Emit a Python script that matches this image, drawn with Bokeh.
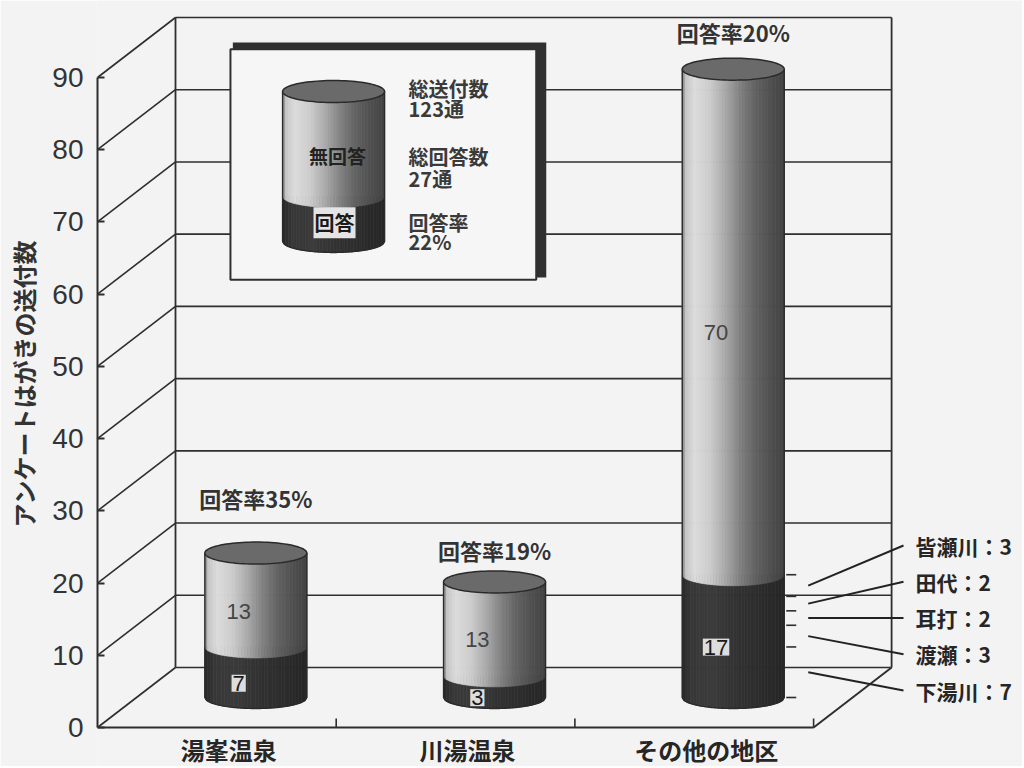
import numpy as np
from bokeh.plotting import figure
from bokeh.models import Range1d, FixedTicker
from bokeh.core.properties import value
from bokeh.embed import file_html
from bokeh.resources import INLINE

# ---------------- data ----------------
categories = ["湯峯温泉", "川湯温泉", "その他の地区"]
answered = [7, 3, 17]
unanswered = [13, 13, 70]
area_names = ["下湯川", "渡瀬", "耳打", "田代", "皆瀬川"]
area_answered = [7, 3, 2, 2, 3]
y_ticks = [0, 10, 20, 30, 40, 50, 60, 70, 80, 90]
y_title = "アンケートはがきの送付数"
key_names = ["無回答", "回答"]
summary_titles = ["総送付数", "総回答数", "回答率"]
rate_prefix = "回答率"

totals = [a + u for a, u in zip(answered, unanswered)]
sent_total = sum(totals)
answered_total = sum(answered)
rates = [round(100 * a / t) for a, t in zip(answered, totals)]
overall_rate = round(100 * answered_total / sent_total)

# ---------------- layout / style ----------------
CJK = "Noto Sans CJK JP"
NUM = "Liberation Sans"
BG = "#f3f3f3"
INK = "#2e2e2e"
W, H = 1022, 766
LEFT = 97
PXX = 238.7            # px per category
PXY = 650 / 90         # px per unit
FLOOR = 727            # canvas px of value 0
DX = 78 / PXX
DY = 60 / PXY
RX = 51 / PXX
RY = 11 / PXY
YMAX = 90
NC = len(categories)

p = figure(width=W, height=H,
           x_range=Range1d(0, (W - LEFT) / PXX),
           y_range=Range1d(-(H - FLOOR) / PXY, FLOOR / PXY),
           output_backend="svg", toolbar_location=None,
           x_axis_location=None,
           min_border_left=LEFT, min_border_right=0,
           min_border_top=0, min_border_bottom=0,
           background_fill_color=BG, border_fill_color=BG,
           outline_line_color=None)
p.grid.visible = False

# ---------------- y axis ----------------
ya = p.yaxis[0]
ya.bounds = (0, YMAX)
ya.ticker = FixedTicker(ticks=y_ticks, minor_ticks=[])
ya.major_tick_in = 7
ya.major_tick_out = 0
ya.minor_tick_in = 0
ya.minor_tick_out = 0
ya.major_tick_line_width = 2
ya.major_tick_line_color = INK
ya.axis_line_width = 2
ya.axis_line_color = INK
ya.major_label_text_font = NUM
ya.major_label_text_font_size = "28px"
ya.major_label_text_color = "#333333"
ya.major_label_standoff = 14
ya.axis_label = y_title
ya.axis_label_text_font = CJK
ya.axis_label_text_font_size = "24px"
ya.axis_label_text_font_style = "bold"
ya.axis_label_text_color = "#333333"
ya.axis_label_standoff = 8

# ---------------- 3D frame ----------------
n = len(y_ticks)
p.segment(x0=[0] * n, y0=y_ticks, x1=[DX] * n, y1=[v + DY for v in y_ticks],
          line_color=INK, line_width=1.6)
p.segment(x0=[DX] * n, y0=[v + DY for v in y_ticks], x1=[NC + DX] * n,
          y1=[v + DY for v in y_ticks], line_color=INK, line_width=1.6)
p.segment(x0=[DX, NC + DX], y0=[DY, DY], x1=[DX, NC + DX], y1=[YMAX + DY] * 2,
          line_color=INK, line_width=1.8)
p.segment(x0=[0, NC], y0=[0, 0], x1=[NC, NC + DX], y1=[0, DY],
          line_color=INK, line_width=2)
bx = list(range(1, NC + 1))
p.segment(x0=bx, y0=[0] * NC, x1=bx, y1=[9 / PXY] * NC, line_color=INK, line_width=1.6)

# ---------------- legend box ----------------
LB = dict(left=0.557, right=1.838, bottom=62.0, top=93.9)
p.quad(left=LB["left"] + 0.01, right=LB["right"] + 0.042, bottom=LB["bottom"] + 0.3,
       top=LB["top"] + 0.95, fill_color="#303030", line_color=None)
p.quad(left=LB["left"], right=LB["right"], bottom=LB["bottom"], top=LB["top"],
       fill_color="#f6f6f6", line_color="#303030", line_width=2)

# ---------------- cylinders ----------------
light_u = [-1.0, -0.92, -0.75, -0.45, -0.15, 0.15, 0.45, 0.75, 1.0]
light_v = [0.50, 0.78, 0.86, 0.80, 0.66, 0.50, 0.38, 0.31, 0.26]
dark_u = [-1.0, -0.8, -0.4, 0.2, 1.0]
dark_v = [0.16, 0.22, 0.23, 0.19, 0.15]


def shade(u, us, vs):
    g = int(round(255 * float(np.interp(u, us, vs))))
    return "#%02x%02x%02x" % (g, g, g)


NS = 36


def side_polys(cx, y_lo, y_hi, us, vs):
    edges = np.linspace(-1, 1, NS + 1)
    xs, ys, cs = [], [], []
    for k in range(NS):
        uu = np.linspace(edges[k], edges[k + 1], 4)
        bxs = cx + RX * uu
        bys = y_lo - RY * np.sqrt(np.clip(1 - uu ** 2, 0, None))
        xs.append(list(bxs) + [bxs[-1], bxs[0]])
        ys.append(list(bys) + [y_hi, y_hi])
        cs.append(shade(float(uu.mean()), us, vs))
    return xs, ys, cs


cyl_cx = [i + 0.5 + DX / 2 for i in range(NC)]
cyl_base = [DY / 2] * NC
cyl_split = [b + a for b, a in zip(cyl_base, answered)]
cyl_top = [b + t for b, t in zip(cyl_base, totals)]

# legend key cylinder (schematic)
key_cx, key_base, key_top = 0.989, 67.3, 88.06
key_split = key_base + 0.3 * (key_top - key_base)

all_cx = cyl_cx + [key_cx]
all_base = cyl_base + [key_base]
all_split = cyl_split + [key_split]
all_top = cyl_top + [key_top]

for cx, b, s, t in zip(all_cx, all_base, all_split, all_top):
    xs, ys, cs = side_polys(cx, b, s, dark_u, dark_v)
    p.patches(xs, ys, fill_color=cs, line_color=cs, line_width=0.7)
    xs, ys, cs = side_polys(cx, s, t, light_u, light_v)
    p.patches(xs, ys, fill_color=cs, line_color=cs, line_width=0.7)

tt = np.linspace(-1, 1, 60)
out_x, out_y = [], []
for cx, b, t in zip(all_cx, all_base, all_top):
    ox = [cx - RX] + list(cx + RX * tt) + [cx + RX]
    oy = [t] + list(b - RY * np.sqrt(np.clip(1 - tt ** 2, 0, None))) + [t]
    out_x.append(ox)
    out_y.append(oy)
p.multi_line(out_x, out_y, line_color="#2a2a2a", line_width=1.4)

th = np.linspace(0, 2 * np.pi, 90)
ex = [list(cx + RX * np.cos(th)) for cx in all_cx]
ey = [list(t + RY * np.sin(th)) for t in all_top]
p.patches(ex, ey, fill_color="#6a6a6a", line_color="#2a2a2a", line_width=1.5)

# segment value labels
lab_dx = 0.072
p.text(x=[cx - lab_dx for cx in cyl_cx],
       y=[s + u / 2 - RY for s, u in zip(cyl_split, unanswered)],
       text=[str(u) for u in unanswered],
       text_font=value(NUM), text_font_size="22px", text_color="#454545",
       text_align="center", text_baseline="middle")
p.text(x=[cx - lab_dx for cx in cyl_cx],
       y=[b + a / 2 - RY for b, a in zip(cyl_base, answered)],
       text=[str(a) for a in answered],
       text_font=value(NUM), text_font_size="22px", text_color="#1a1a1a",
       text_align="center", text_baseline="middle",
       background_fill_color="#dddddd", padding=1)

# response-rate labels
rate_lift_px = [55, 32, 37]
p.text(x=cyl_cx, y=[t + l / PXY for t, l in zip(cyl_top, rate_lift_px)],
       text=[f"{rate_prefix}{r}%" for r in rates],
       text_font=value(CJK), text_font_size="22px", text_font_style="bold",
       text_color="#333333", text_align="center", text_baseline="middle")

# category labels
p.text(x=[i + 0.55 for i in range(NC)], y=[-22 / PXY] * NC, text=categories,
       text_font=value(CJK), text_font_size="24px", text_font_style="bold",
       text_color="#262626", text_align="center", text_baseline="middle")

# ---------------- breakdown of "その他の地区" ----------------
oc = NC - 1
cum = list(np.cumsum([0] + area_answered))
rx_edge = cyl_cx[oc] + RX
p.segment(x0=[rx_edge + 2 / PXX] * len(cum), y0=[cyl_base[oc] + c for c in cum],
          x1=[rx_edge + 12 / PXX] * len(cum), y1=[cyl_base[oc] + c for c in cum],
          line_color=INK, line_width=1.6)
mids = [cyl_base[oc] + (cum[k] + cum[k + 1]) / 2 for k in range(len(area_answered))]
lab_x = (915 - 97) / PXX
lab_y = [5.12 + 5.02 * k for k in range(len(area_answered))]
p.segment(x0=[rx_edge + 24 / PXX] * len(mids), y0=mids,
          x1=[lab_x - 12 / PXX] * len(mids), y1=lab_y,
          line_color="#222222", line_width=2)
p.text(x=[lab_x] * len(area_names), y=lab_y,
       text=[f"{nm}：{v}" for nm, v in zip(area_names, area_answered)],
       text_font=value(CJK), text_font_size="21px", text_font_style="bold",
       text_color="#262626", text_align="left", text_baseline="middle")

# ---------------- legend texts ----------------
p.text(x=[key_cx + 0.016], y=[79.2], text=[key_names[0]],
       text_font=value(CJK), text_font_size="19px", text_font_style="bold",
       text_color="#222222", text_align="center", text_baseline="middle")
p.text(x=[key_cx + 0.004], y=[69.9], text=[key_names[1]],
       text_font=value(CJK), text_font_size="20px", text_font_style="bold",
       text_color="#1a1a1a", text_align="center", text_baseline="middle",
       background_fill_color="#e4e4e4", padding=1)
sum_x = 1.303
sum_y = [88.48, 85.71, 79.06, 76.02, 69.92, 67.29]
sum_text = [summary_titles[0], f"{sent_total}通",
            summary_titles[1], f"{answered_total}通",
            summary_titles[2], f"{overall_rate}%"]
p.text(x=[sum_x] * len(sum_text), y=sum_y, text=sum_text,
       text_font=value(CJK), text_font_size="20px", text_font_style="bold",
       text_color="#3a3a3a", text_align="left", text_baseline="middle")

open("out.html", "w").write(file_html(p, INLINE))
